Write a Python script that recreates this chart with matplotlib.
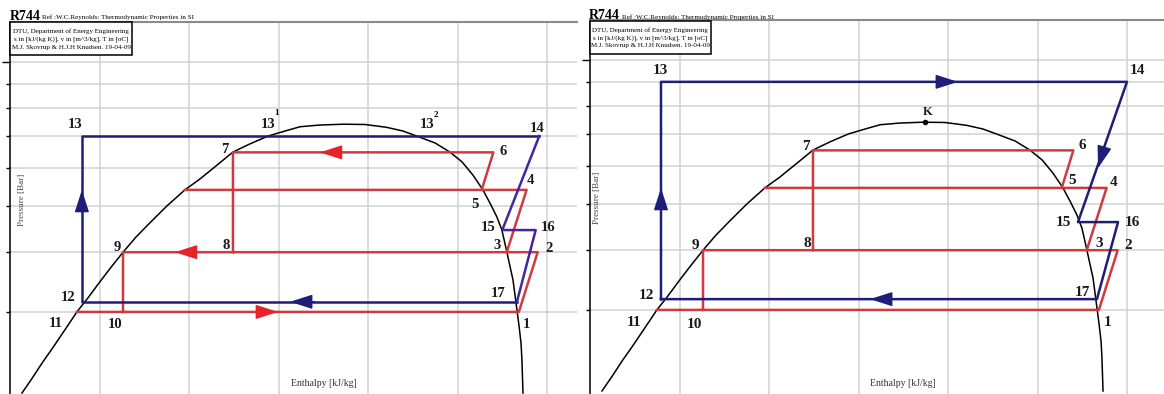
import matplotlib
matplotlib.use("Agg")
import matplotlib.pyplot as plt
from matplotlib.patches import Rectangle
from matplotlib.ticker import FixedLocator, NullFormatter, NullLocator

"""R744 log(p)-h chart, two cascade cycles side by side"""

W, H = 1164, 394
SERIF = "Liberation Serif"

# saturation dome (h [kJ/kg], p [bar])
dome_h = [156.4, 162.1, 167.8, 173.5, 179.2, 183.4, 187.1, 193.3, 200.0, 206.2, 212.9,
          220.1, 228.0, 237.5, 247.5, 255.9, 264.9, 274.4, 283.9, 294.1, 303.5, 311.9,
          323.0, 336.0, 348.2, 360.3, 369.5, 377.1, 387.4, 395.7, 402.5, 408.6, 414.2,
          418.7, 422.0, 424.8, 427.6, 429.3, 431.0, 432.1, 433.2, 434.3, 435.5, 436.0,
          436.6]
dome_p = [20.3, 21.8, 23.5, 25.2, 27.1, 28.6, 30.0, 32.1, 34.7, 37.2, 40.0,
          43.0, 46.1, 50.0, 54.0, 56.9, 60.6, 64.8, 67.4, 70.0, 71.7, 73.2,
          73.8, 74.1, 74.0, 73.0, 71.7, 70.0, 67.7, 64.8, 61.8, 58.0, 54.0,
          50.2, 47.4, 44.5, 40.0, 37.4, 35.0, 32.6, 30.3, 28.2, 25.8, 23.8,
          20.3]
crit_h, crit_p = 337.0, 74.2

# red cycle, states 1..11 (same in both charts)
red_states = ["1", "2", "3", "4", "5", "6", "7", "8", "9", "10", "11"]
red_h = [434.3, 444.8, 427.5, 438.6, 413.5, 420.0, 274.4, 274.4, 212.9, 212.9, 187.1]
red_p = [30.0, 40.0, 40.0, 54.0, 54.0, 64.7, 64.7, 40.0, 40.0, 30.0, 30.0]
liq54_h, liq54_p = 247.5, 54.0

# blue cycle, states 12..17
blue_states = ["12", "13", "14", "15", "16", "17"]
blueL_h = [189.9, 189.9, 445.7, 425.0, 443.7, 433.2]
blueL_p = [31.5, 70.0, 70.0, 44.5, 44.5, 31.5]
blueR_h = [189.4, 189.4, 450.0, 422.6, 445.0, 433.2]
blueR_p = [31.6, 90.0, 90.0, 45.8, 45.8, 31.6]

# 13-14 line crossing the dome (left chart): 13^1, 13^2
sat13_h = [294.1, 377.1]
sat13_p = [70.0, 70.0]

# arrows: tip h, tip p, tail h, tail p, colour key
arrowsL = [(189.9, 54.0, 189.9, 48.6, "b"), (306.3, 31.5, 320.2, 31.5, "b"),
           (299.6, 30.0, 287.8, 30.0, "r"), (241.9, 40.0, 252.0, 40.0, "r"),
           (323.0, 64.7, 333.1, 64.7, "r")]
arrowsR = [(189.4, 54.0, 189.4, 48.9, "b"), (355.5, 90.0, 342.6, 90.0, "b"),
           (433.8, 59.4, 437.7, 66.4, "b"), (306.3, 31.6, 320.2, 31.6, "b")]

p_grid = [30, 40, 50, 60, 70, 80, 90]
h_grid = [200, 250, 300, 350, 400, 450]

NAVY = "#1e1e78"
PURPLE = "#4426a0"
RED = "#cf3a3f"
ARROW_RED = "#e5232a"
cols = {"b": NAVY, "r": ARROW_RED}

# label offsets in pixels from each state point
offL = {"1": (8, -11), "2": (11, 5), "3": (-10, 8), "4": (4, 11), "5": (-7, -13),
        "6": (10, 2), "7": (-8, 4), "8": (-7, 8), "9": (-6, 6), "10": (-8, -11),
        "11": (-21, -10), "12": (-14, 6), "13": (-7, 13), "14": (-2, 9),
        "15": (-14, 4), "16": (12, 4), "17": (-19, 10)}
offR = {"1": (9, -11), "2": (11, 6), "3": (12, 8), "4": (7, 7), "5": (10, 9),
        "6": (9, 6), "7": (-7, 5), "8": (-6, 8), "9": (-8, 6), "10": (-9, -13),
        "11": (-23, -11), "12": (-15, 5), "13": (-1, 13), "14": (10, 13),
        "15": (-15, 1), "16": (14, 1), "17": (-15, 8)}

fig = plt.figure(figsize=(W / 100, H / 100), dpi=100)


def fx(x):
    return x / W


def fy(y):
    return 1 - y / H


def setup_axes(left_px, width_px, top_px, xmax):
    ax = fig.add_axes([fx(left_px), fy(top_px + 373.7), width_px / W, 373.7 / H])
    ax.set_yscale("log")
    ax.set_ylim(20, 121)
    ax.set_xlim(149.7, xmax)
    ax.yaxis.set_major_locator(FixedLocator([100]))
    ax.yaxis.set_minor_locator(FixedLocator(p_grid))
    ax.yaxis.set_major_formatter(NullFormatter())
    ax.yaxis.set_minor_formatter(NullFormatter())
    ax.xaxis.set_major_locator(FixedLocator(h_grid))
    ax.xaxis.set_minor_locator(NullLocator())
    ax.xaxis.set_major_formatter(NullFormatter())
    ax.tick_params(axis="y", which="major", length=6, width=1, direction="out")
    ax.tick_params(axis="y", which="minor", length=3, width=1, direction="out")
    ax.tick_params(axis="x", length=0)
    ax.grid(True, which="both", color="#d2d2d2", lw=1.1)
    ax.set_axisbelow(True)
    for s in ["right", "bottom"]:
        ax.spines[s].set_visible(False)
    ax.spines["left"].set_linewidth(1.1)
    ax.spines["top"].set_color("#8a8a8a")
    ax.spines["top"].set_linewidth(1.5)
    ax.plot(dome_h, dome_p, color="black", lw=1.1, zorder=3)
    return ax


def header(dx, dy):
    fig.text(fx(10 + dx), fy(20 + dy), "R744", fontsize=10, weight="bold",
             family=SERIF, va="baseline")
    fig.text(fx(42.5 + dx), fy(19.5 + dy), "Ref :W.C.Reynolds: Thermodynamic Properties in SI",
             fontsize=5.1, family=SERIF, va="baseline")
    fig.add_artist(Rectangle((fx(10.5 + dx), fy(55 + dy)), 121 / W, 33.5 / H,
                             transform=fig.transFigure, facecolor="white",
                             edgecolor="black", lw=1.1, zorder=5))
    lines = ["DTU, Department of Energy Engineering",
             "s in [kJ/(kg K)], v in [m^3/kg], T in [oC]",
             "M.J. Skovrup & H.J.H Knudsen. 19-04-09"]
    for i, t in enumerate(lines):
        fig.text(fx(71 + dx), fy(31 + 8 * i + dy), t, fontsize=5, family=SERIF,
                 ha="center", va="center", zorder=6)


def arrow(ax, a):
    ax.annotate("", xy=(a[0], a[1]), xytext=(a[2], a[3]),
                arrowprops=dict(arrowstyle="-|>,head_length=1.4,head_width=0.45",
                                mutation_scale=10, color=cols[a[4]], lw=1,
                                shrinkA=0, shrinkB=0), zorder=6)


def label(ax, text, h, p, off, size):
    ax.annotate(text, xy=(h, p), xytext=off, textcoords="offset pixels",
                ha="center", va="center_baseline", fontsize=size, weight="bold",
                family=SERIF, color="#1a1a1a", zorder=7)


def draw_red(ax):
    r = dict(zip(red_states, zip(red_h, red_p)))
    for path in (["11", "1", "2", "9", "10"], ["5", "6", "7", "8"]):
        ax.plot([r[k][0] for k in path], [r[k][1] for k in path], color=RED, lw=1.8, zorder=4)
    ax.plot([r["3"][0], r["4"][0], liq54_h], [r["3"][1], r["4"][1], liq54_p],
            color=RED, lw=1.8, zorder=4)
    return r


# ---------------- left chart ----------------
axL = setup_axes(10, 567, 22.4, 466.8)
rL = draw_red(axL)
bL = dict(zip(blue_states, zip(blueL_h, blueL_p)))
path = ["17", "12", "13", "14"]
axL.plot([bL[k][0] for k in path], [bL[k][1] for k in path], color=NAVY, lw=1.8, zorder=4)
path = ["14", "15", "16", "17"]
axL.plot([bL[k][0] for k in path], [bL[k][1] for k in path], color=PURPLE, lw=1.8, zorder=4)
for a in arrowsL:
    arrow(axL, a)
for k, (h, p) in list(rL.items()) + list(bL.items()):
    label(axL, k, h, p, offL[k], 10.5)
label(axL, "13", sat13_h[0], sat13_p[0], (0, 13), 10.5)
label(axL, "13", sat13_h[1], sat13_p[1], (10, 13), 10.5)
axL.annotate("1", xy=(sat13_h[0], sat13_p[0]), xytext=(8.5, 24.5), textcoords="offset pixels",
             ha="center", va="center_baseline", fontsize=6.5, family=SERIF, weight="bold")
axL.annotate("2", xy=(sat13_h[1], sat13_p[1]), xytext=(19.5, 22), textcoords="offset pixels",
             ha="center", va="center_baseline", fontsize=6.5, family=SERIF, weight="bold")
header(0, 0)
fig.text(fx(22), fy(200), "Pressure [Bar]", rotation=90, fontsize=6.5, family=SERIF,
         color="#444444", ha="center", va="center")
fig.text(fx(324), fy(384), "Enthalpy [kJ/kg]", fontsize=7, family=SERIF,
         color="#333333", ha="center", va="center")

# ---------------- right chart ----------------
axR = setup_axes(590, 574, 20.4, 470.7)
rR = draw_red(axR)
bR = dict(zip(blue_states, zip(blueR_h, blueR_p)))
path = ["12", "13", "14", "15", "16", "17", "12"]
axR.plot([bR[k][0] for k in path], [bR[k][1] for k in path], color=NAVY, lw=1.8, zorder=4)
for a in arrowsR:
    arrow(axR, a)
for k, (h, p) in list(rR.items()) + list(bR.items()):
    label(axR, k, h, p, offR[k], 11)
axR.plot([crit_h], [crit_p], "o", color="black", ms=3, zorder=5)
label(axR, "K", crit_h, crit_p, (3, 11), 9)
header(579, -1)
fig.text(fx(597), fy(198), "Pressure [Bar]", rotation=90, fontsize=6.5, family=SERIF,
         color="#444444", ha="center", va="center")
fig.text(fx(903), fy(383), "Enthalpy [kJ/kg]", fontsize=7, family=SERIF,
         color="#333333", ha="center", va="center")

plt.savefig("out.png", dpi=100)
